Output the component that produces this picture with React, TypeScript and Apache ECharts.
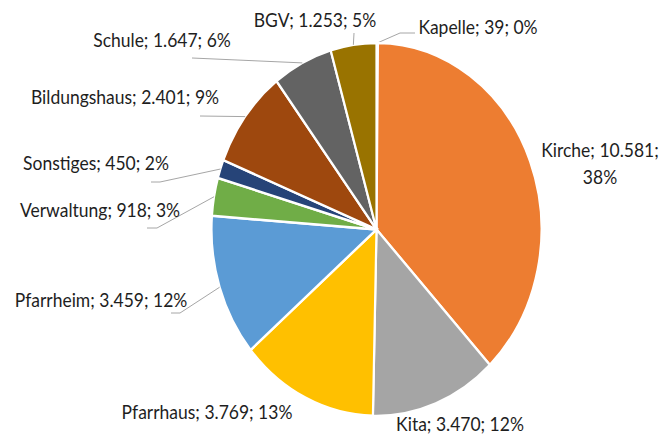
import React, { useEffect, useRef } from "react";
import * as echarts from "echarts";

// ---- data (clockwise from 12 o'clock) ----
const categories = [
  "Kapelle",
  "Kirche",
  "Kita",
  "Pfarrhaus",
  "Pfarrheim",
  "Verwaltung",
  "Sonstiges",
  "Bildungshaus",
  "Schule",
  "BGV",
];
const values = [39, 10581, 3470, 3769, 3459, 918, 450, 2401, 1647, 1253];
const percentLabels = [0, 38, 12, 13, 12, 3, 2, 9, 6, 5];

// ---- styles / layout ----
const colors = [
  "#4472C4",
  "#ED7D31",
  "#A5A5A5",
  "#FFC000",
  "#5B9BD5",
  "#70AD47",
  "#264478",
  "#9E480E",
  "#636363",
  "#997300",
];
const CX = 376.5;
const CY = 229.5;
const RX = 165;
const RY = 186.5;
const TEXT_SY = 1.1;
const FONT_SIZE = 17.5;
const FONT_FAMILY = "Lato, 'Noto Sans', sans-serif";

// label centre + leader-line elbow points (leader starts at slice mid-edge)
const labelLayout: { x: number; y: number; lines: number[][] }[] = [
  { x: 478, y: 27, lines: [[400, 33], [415, 33]] },
  { x: 600, y: 163, lines: [] },
  { x: 460, y: 424, lines: [] },
  { x: 207, y: 412, lines: [] },
  { x: 101, y: 300, lines: [[180, 313], [171, 313]] },
  { x: 100, y: 210, lines: [[157, 228], [147, 228]] },
  { x: 96, y: 163, lines: [[160, 182], [151, 182]] },
  { x: 125, y: 97, lines: [[200, 116]] },
  { x: 162, y: 40, lines: [[192, 58]] },
  { x: 315, y: 20, lines: [[354, 33]] },
];

const total = values.reduce((a, b) => a + b, 0);
const starts: number[] = [];
values.reduce((acc, v, i) => {
  starts[i] = acc;
  return acc + v;
}, 0);

function fmt(n: number): string {
  return String(n).replace(/\B(?=(\d{3})+(?!\d))/g, ".");
}

export default function App() {
  const ref = useRef<HTMLDivElement>(null);
  useEffect(() => {
    if (!ref.current) return;
    const chart = echarts.init(ref.current, undefined, { renderer: "svg" });
    chart.setOption({
      animation: false,
      backgroundColor: "#ffffff",
      series: [
        {
          type: "custom",
          coordinateSystem: "none",
          silent: true,
          data: values,
          renderItem: (params: any, api: any) => {
            const i = params.dataIndex;
            const v = api.value(0) as number;
            const a0 = -Math.PI / 2 + (starts[i] / total) * 2 * Math.PI;
            const a1 = -Math.PI / 2 + ((starts[i] + v) / total) * 2 * Math.PI;
            const mid = (a0 + a1) / 2;
            const children: any[] = [
              {
                type: "sector",
                shape: { cx: CX, cy: CY, r: RX, r0: 0, startAngle: a0, endAngle: a1, clockwise: true },
                originX: CX,
                originY: CY,
                scaleY: RY / RX,
                style: { fill: colors[i], stroke: "#ffffff", lineWidth: 2.2 },
              },
            ];
            const lay = labelLayout[i];
            if (lay.lines.length) {
              const sx = CX + RX * Math.cos(mid);
              const sy = CY + RY * Math.sin(mid);
              children.push({
                type: "polyline",
                shape: { points: [[sx, sy], ...lay.lines] },
                style: { stroke: "#A6A6A6", lineWidth: 1, fill: "none" },
              });
            }
            const name = categories[i];
            const twoLine = name === "Kirche";
            const txt = twoLine
              ? `${name}; ${fmt(v)};\n${percentLabels[i]}%`
              : `${name}; ${fmt(v)}; ${percentLabels[i]}%`;
            const style: any = {
              text: txt,
              fill: "#1e1e1e",
              fontSize: FONT_SIZE,
              fontFamily: FONT_FAMILY,
              align: "center",
              verticalAlign: "middle",
            };
            if (twoLine) style.lineHeight = 25;
            children.push({
              type: "text",
              x: lay.x,
              y: lay.y,
              scaleY: TEXT_SY,
              style,
            });
            return { type: "group", children };
          },
        },
      ],
    });
    return () => chart.dispose();
  }, []);
  return (
    <div
      ref={ref}
      style={{ position: "fixed", left: 0, top: 0, width: 666, height: 437 }}
    />
  );
}
